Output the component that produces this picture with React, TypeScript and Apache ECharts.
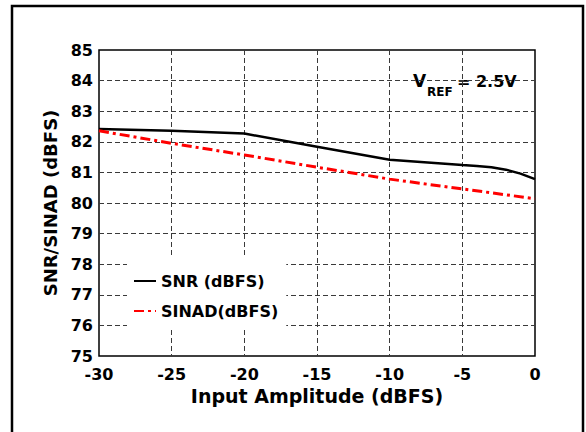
import React, { useEffect, useRef } from "react";
import * as echarts from "echarts";

const FONT = "DejaVu Sans";

const snrX = [-30, -25, -20, -15, -10, -5, -4, -3, -2, -1, 0];
const snrY = [82.42, 82.36, 82.27, 81.84, 81.41, 81.24, 81.21, 81.17, 81.09, 80.96, 80.78];
const sinadX = [-30, -25, -20, -15, -10, -5, 0];
const sinadY = [82.36, 81.95, 81.57, 81.17, 80.78, 80.46, 80.14];

const seriesNames = ["SNR (dBFS)", "SINAD(dBFS)"];
const xAxisTitle = "Input Amplitude (dBFS)";
const yAxisTitle = "SNR/SINAD (dBFS)";
const xRange = { min: -30, max: 0, interval: 5 };
const yRange = { min: 75, max: 85, interval: 1 };
const refMain = "V";
const refSub = "REF";
const refValue = "= 2.5V";

export default function App() {
  const ref = useRef<HTMLDivElement>(null);
  useEffect(() => {
    if (!ref.current) return;
    const chart = echarts.init(ref.current, null, { renderer: "svg" });
    const gridLine = { show: true, showMinLine: false, showMaxLine: false, lineStyle: { color: "#3a3a3a", type: [5, 3], width: 1 } };
    const labelStyle = { color: "#000", fontSize: 16, fontWeight: "bold", fontFamily: FONT };
    chart.setOption({
      animation: false,
      backgroundColor: "#fff",
      grid: { left: 99, right: 51, top: 50, bottom: 76, show: true, borderColor: "#000", borderWidth: 1.5, backgroundColor: "transparent" },
      xAxis: {
        type: "value",
        min: xRange.min,
        max: xRange.max,
        interval: xRange.interval,
        axisLine: { show: false },
        axisTick: { show: false },
        splitLine: gridLine,
        axisLabel: { ...labelStyle, margin: 10 },
        name: xAxisTitle,
        nameLocation: "middle",
        nameGap: 30,
        nameTextStyle: { color: "#000", fontSize: 19, fontWeight: "bold", fontFamily: FONT },
      },
      yAxis: {
        type: "value",
        min: yRange.min,
        max: yRange.max,
        interval: yRange.interval,
        axisLine: { show: false },
        axisTick: { show: false },
        splitLine: gridLine,
        axisLabel: { ...labelStyle, margin: 6 },
        name: yAxisTitle,
        nameLocation: "middle",
        nameGap: 33,
        nameTextStyle: { color: "#000", fontSize: 18, fontWeight: "bold", fontFamily: FONT },
      },
      legend: {
        orient: "vertical",
        left: 127,
        top: 258,
        padding: [15, 8, 11, 6],
        itemWidth: 22,
        itemHeight: 14,
        itemGap: 14,
        backgroundColor: "#fff",
        itemStyle: { opacity: 0 },
        data: seriesNames,
        textStyle: { color: "#000", fontSize: 16, fontWeight: "bold", fontFamily: FONT },
      },
      series: [
        {
          name: seriesNames[0],
          type: "line",
          symbol: "none",
          data: snrX.map((x, i) => [x, snrY[i]]),
          lineStyle: { color: "#000", width: 2.5, type: "solid" },
          itemStyle: { color: "#000" },
        },
        {
          name: seriesNames[1],
          type: "line",
          symbol: "none",
          data: sinadX.map((x, i) => [x, sinadY[i]]),
          lineStyle: { color: "#ff0000", width: 3, type: [10, 4, 3, 4] },
          itemStyle: { color: "#ff0000" },
        },
      ],
      graphic: [
        {
          type: "rect",
          z: 100,
          shape: { x: 12, y: 6, width: 571, height: 440 },
          style: { fill: "none", stroke: "#000", lineWidth: 2.5 },
        },
        {
          type: "group",
          z: 100,
          children: [
            { type: "rect", shape: { x: 408, y: 68, width: 121, height: 30 }, style: { fill: "#fff" } },
            { type: "text", x: 413, y: 81, style: { text: refMain, fontSize: 17, fontWeight: "bold", fontFamily: FONT, fill: "#000", verticalAlign: "middle", align: "left" } },
            { type: "text", x: 427, y: 92, style: { text: refSub, fontSize: 12, fontWeight: "bold", fontFamily: FONT, fill: "#000", verticalAlign: "middle", align: "left" } },
            { type: "text", x: 457, y: 81, style: { text: refValue, fontSize: 16, fontWeight: "bold", fontFamily: FONT, fill: "#000", verticalAlign: "middle", align: "left" } },
          ],
        },
      ],
    });
    return () => chart.dispose();
  }, []);
  return <div ref={ref} style={{ position: "absolute", left: 0, top: 0, width: 586, height: 432 }} />;
}
